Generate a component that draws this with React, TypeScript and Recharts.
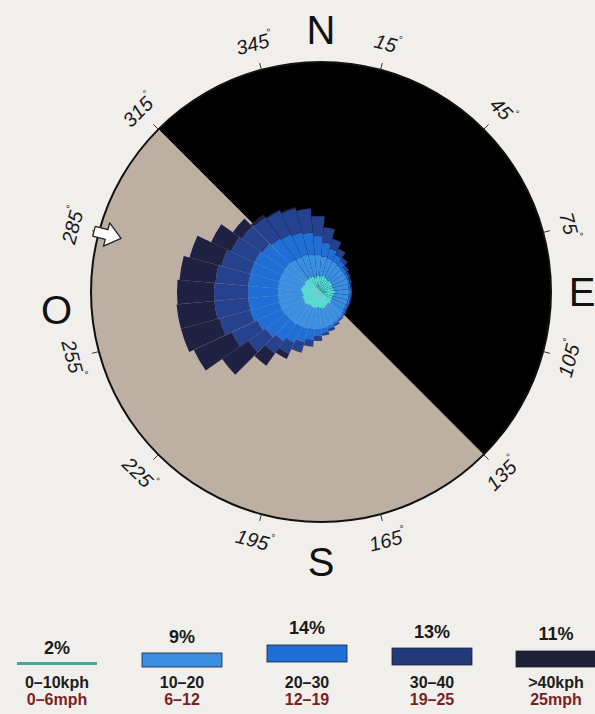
import React from "react";
import {
  PieChart,
  Pie,
  Cell,
  RadialBarChart,
  RadialBar,
  PolarAngleAxis,
  PolarRadiusAxis,
} from "recharts";

// compass direction of each sector (degrees, clockwise from north)
const directions = [
  0, 10, 20, 30, 40, 50, 60, 70, 80, 90, 100, 110, 120, 130, 140, 150, 160, 170,
  180, 190, 200, 210, 220, 230, 240, 250, 260, 270, 280, 290, 300, 310, 320, 330, 340, 350,
];

// frequency per direction for each speed class
const speed0to10 = [
  1.5, 1.6, 1.6, 1.7, 1.6, 1.5, 1.6, 1.6, 1.5, 1.6, 1.7, 1.6, 1.5, 1.6, 1.6, 1.5, 1.6, 1.7,
  1.6, 1.5, 1.6, 1.6, 1.5, 1.6, 1.7, 1.6, 1.6, 1.5, 1.6, 1.7, 1.6, 1.5, 1.6, 1.6, 1.7, 1.6,
];
const speed10to20 = [
  2.3, 2.1, 2.0, 1.8, 1.8, 1.8, 1.6, 1.6, 1.7, 1.5, 1.4, 1.5, 1.6, 1.5, 1.6, 1.8, 1.8, 1.8,
  2.0, 2.2, 2.1, 2.2, 2.3, 2.3, 2.2, 2.4, 2.4, 2.5, 2.4, 2.3, 2.4, 2.5, 2.4, 2.4, 2.2, 2.3,
];
const speed20to30 = [
  2.2, 1.9, 1.4, 1.0, 0.7, 0.5, 0.3, 0.2, 0.1, 0.2, 0.2, 0.2, 0.2, 0.2, 0.2, 0.2, 0.2, 0.3,
  0.5, 0.7, 1.1, 1.4, 1.8, 2.1, 2.5, 2.7, 3.0, 3.0, 3.0, 3.0, 3.0, 3.0, 2.8, 2.6, 2.5, 2.3,
];
const speed30to40 = [
  2.4, 2.0, 1.5, 1.0, 0.7, 0.4, 0.3, 0.2, 0.2, 0.1, 0.1, 0.1, 0.1, 0.1, 0.1, 0.1, 0.2, 0.3,
  0.3, 0.5, 0.7, 1.0, 1.2, 1.5, 2.1, 2.8, 3.2, 3.4, 3.4, 3.3, 3.0, 2.6, 2.5, 2.6, 2.6, 2.5,
];
const speedOver40 = [
  0, 0, 0, 0, 0, 0, 0, 0, 0, 0, 0, 0, 0, 0, 0, 0, 0, 0,
  0, 0, 0, 0.1, 0.6, 1.5, 3.2, 4.2, 4.0, 3.8, 3.7, 3.6, 3.3, 2.2, 1.1, 0.3, 0.1, 0.1,
];

const seriesKeys = ["s0", "s1", "s2", "s3", "s4"];
const seriesColors = ["#52dcd8", "#3b8fe2", "#1f6fd6", "#26428f", "#1e2142"];

// legend
const legendPct = ["2%", "9%", "14%", "13%", "11%"];
const legendKph = ["0–10kph", "10–20", "20–30", "30–40", ">40kph"];
const legendMph = ["0–6mph", "6–12", "12–19", "19–25", "25mph"];
const legendSwatch = ["#4aa697", "#3b8fe2", "#1f6fd6", "#22397a", "#1e2036"];

// compass ring
const degreeTicks = [15, 45, 75, 105, 135, 165, 195, 225, 255, 285, 315, 345];
const cardinals = [
  { label: "N", angle: 0, r: 262 },
  { label: "E", angle: 90, r: 261 },
  { label: "S", angle: 180, r: 270 },
  { label: "O", angle: 266, r: 265 },
];
const halves = [
  { name: "shade", value: 1 },
  { name: "sun", value: 1 },
];

const W = 595;
const H = 714;
const CX = 321;
const CY = 292;
const R = 230;

const roseData = directions.map((d, i) => ({
  dir: d,
  s0: speed0to10[i],
  s1: speed10to20[i],
  s2: speed20to30[i],
  s3: speed30to40[i],
  s4: speedOver40[i],
}));

const polar = (deg: number, r: number) => {
  const a = (deg * Math.PI) / 180;
  return { x: CX + r * Math.sin(a), y: CY - r * Math.cos(a) };
};

const font = "'Liberation Sans', Arial, Helvetica, sans-serif";

function CompassRing() {
  const arrowBase = polar(285, 233);
  return (
    <svg width={W} height={H} style={{ position: "absolute", left: 0, top: 0 }}>
      {degreeTicks.map((d) => {
        const a = polar(d, R);
        const b = polar(d, R + 7);
        const p = polar(d, 257);
        const rot = d > 90 && d < 270 ? d - 180 : d > 180 ? d - 360 : d;
        return (
          <g key={d}>
            <line x1={a.x} y1={a.y} x2={b.x} y2={b.y} stroke="#333" strokeWidth={1} />
            <text
              x={p.x}
              y={p.y}
              transform={`rotate(${rot} ${p.x} ${p.y})`}
              textAnchor="middle"
              dominantBaseline="central"
              fontFamily={font}
              fontStyle="italic"
              fontSize={20}
              fill="#1a1a1a"
            >
              {d}
              <tspan fontSize={10} dy={-8}>°</tspan>
            </text>
          </g>
        );
      })}
      {cardinals.map((c) => {
        const p = polar(c.angle, c.r);
        return (
          <text
            key={c.label}
            x={p.x}
            y={p.y}
            textAnchor="middle"
            dominantBaseline="central"
            fontFamily={font}
            fontSize={40}
            fill="#111"
          >
            {c.label}
          </text>
        );
      })}
      <g transform={`translate(${arrowBase.x} ${arrowBase.y}) rotate(15)`}>
        <polygon
          points="-2,-5 11,-5 11,-12 26,0 11,12 11,5 -2,5"
          fill="#fff"
          stroke="#222"
          strokeWidth={1.3}
          strokeLinejoin="round"
        />
      </g>
    </svg>
  );
}

function SpeedLegend() {
  const centers = [57, 182, 307, 432, 556];
  const pctY = [648, 637, 628, 632, 634];
  const swatchY = [662, 653, 645, 648, 651];
  const swatchH = [3, 14, 17, 17, 16];
  return (
    <svg width={W} height={H} style={{ position: "absolute", left: 0, top: 0 }}>
      {legendPct.map((p, i) => (
        <g key={p} fontFamily={font} textAnchor="middle">
          <text
            x={centers[i]}
            y={pctY[i]}
            dominantBaseline="central"
            fontSize={18}
            fontWeight={700}
            fill="#1a1a1a"
          >
            {p}
          </text>
          <rect
            x={centers[i] - 40}
            y={swatchY[i]}
            width={80}
            height={swatchH[i]}
            fill={legendSwatch[i]}
            stroke={i === 0 ? "none" : "#1b2233"}
            strokeWidth={0.8}
          />
          <text
            x={centers[i]}
            y={682}
            dominantBaseline="central"
            fontSize={16}
            fontWeight={700}
            fill="#1c1c1c"
          >
            {legendKph[i]}
          </text>
          <text
            x={centers[i]}
            y={699}
            dominantBaseline="central"
            fontSize={16}
            fontWeight={700}
            fill="#7a1f24"
          >
            {legendMph[i]}
          </text>
        </g>
      ))}
    </svg>
  );
}

export default function App() {
  return (
    <div
      style={{
        position: "absolute",
        left: 0,
        top: 0,
        width: W,
        height: H,
        background: "#f1efec",
        overflow: "hidden",
      }}
    >
      <div style={{ position: "absolute", left: 0, top: 0 }}>
        <PieChart width={W} height={H} margin={{ top: 0, right: 0, bottom: 0, left: 0 }}>
          <Pie
            data={halves}
            dataKey="value"
            cx={CX}
            cy={CY}
            innerRadius={0}
            outerRadius={R}
            startAngle={135}
            endAngle={-225}
            stroke="none"
            isAnimationActive={false}
          >
            <Cell fill="#000000" />
            <Cell fill="#bdb0a3" />
          </Pie>
          <Pie
            data={[{ value: 1 }]}
            dataKey="value"
            cx={CX}
            cy={CY}
            innerRadius={R - 1}
            outerRadius={R + 1}
            startAngle={90}
            endAngle={-270}
            fill="#111"
            stroke="none"
            isAnimationActive={false}
          />
        </PieChart>
      </div>
      <div style={{ position: "absolute", left: 0, top: 0 }}>
        <RadialBarChart
          width={W}
          height={H}
          data={roseData}
          layout="centric"
          cx={318}
          cy={CY}
          innerRadius={0}
          outerRadius={R}
          startAngle={95}
          endAngle={-265}
          barCategoryGap={0}
          barGap={0}
          margin={{ top: 0, right: 0, bottom: 0, left: 0 }}
        >
          <PolarAngleAxis type="category" dataKey="dir" tick={false} axisLine={false} />
          <PolarRadiusAxis type="number" domain={[0, 23]} tick={false} axisLine={false} />
          {seriesKeys.map((k, i) => (
            <RadialBar
              key={k}
              dataKey={k}
              stackId="rose"
              fill={seriesColors[i]}
              isAnimationActive={false}
            />
          ))}
        </RadialBarChart>
      </div>
      <CompassRing />
      <SpeedLegend />
    </div>
  );
}
